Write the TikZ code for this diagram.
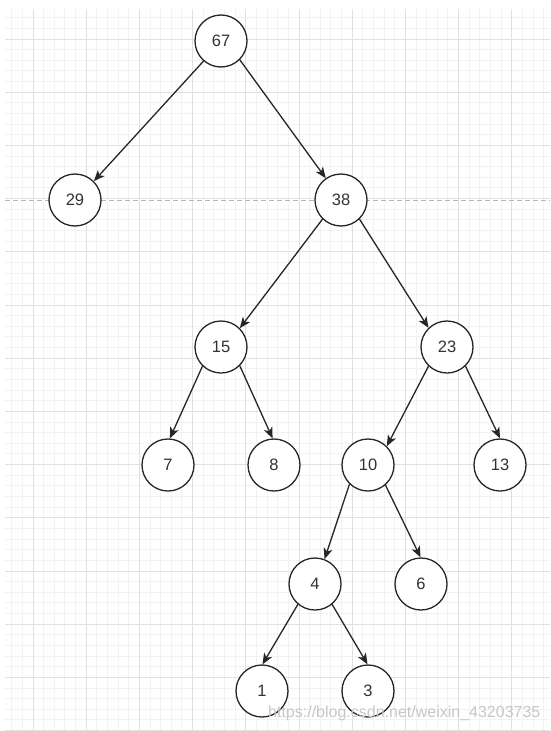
\documentclass[tikz,border=0pt]{standalone}
\usepackage{fontspec}
\setmainfont{Liberation Sans}
\usetikzlibrary{arrows.meta}
\begin{document}
\begin{tikzpicture}[x=1pt,y=-1pt,
  tnode/.style={circle,draw=black!85,line width=1.3pt,fill=white,minimum size=52pt,inner sep=0pt,font=\fontsize{16.5}{16.5}\selectfont,text=black!80},
  edge/.style={draw=black!85,line width=1.3pt,-{Stealth[length=11pt,width=9pt,inset=3pt]}},
  minorgrid/.style={draw=black!5,line width=1pt},
  majorgrid/.style={draw=black!12,line width=1pt},
  sepline/.style={draw=black!28,line width=1pt,dash pattern=on 5pt off 3pt}]
\useasboundingbox (0,0) rectangle (550,731);
\fill[white] (0,0) rectangle (550,731);
\begin{scope}
\clip (5,9) rectangle (550,731);
\foreach \k in {-3,...,52} { \draw[minorgrid] ({33+10.64*\k},9) -- ({33+10.64*\k},731); }
\foreach \k in {-3,...,67} { \draw[minorgrid] (5,{39+10.64*\k}) -- (550,{39+10.64*\k}); }
\foreach \k in {-1,...,10} { \draw[majorgrid] ({33+53.2*\k},9) -- ({33+53.2*\k},731); }
\foreach \k in {-1,...,13} { \draw[majorgrid] (5,{39+53.2*\k}) -- (550,{39+53.2*\k}); }
\end{scope}
\coordinate (sl) at (5,200);
\coordinate (sr) at (550,200);
\draw[sepline] (sl) -- (sr);
\node[tnode] (n67) at (221,41) {67};
\node[tnode] (n29) at (75,200) {29};
\node[tnode] (n38) at (341,200) {38};
\node[tnode] (n15) at (221,347) {15};
\node[tnode] (n23) at (447,347) {23};
\node[tnode] (n7) at (168,465) {7};
\node[tnode] (n8) at (274,465) {8};
\node[tnode] (n10) at (368,465) {10};
\node[tnode] (n13) at (500,465) {13};
\node[tnode] (n4) at (315,584) {4};
\node[tnode] (n6) at (421,584) {6};
\node[tnode] (n1) at (262,691) {1};
\node[tnode] (n3) at (368,691) {3};
\draw[edge] (n67.229) -- (n29.45);
\draw[edge] (n67.315) -- (n38.125);
\draw[edge] (n38.226) -- (n15.45);
\draw[edge] (n38.314) -- (n23.134);
\draw[edge] (n15.226) -- (n7.86);
\draw[edge] (n15.315) -- (n8.93);
\draw[edge] (n23.226) -- (n10.45);
\draw[edge] (n23.314) -- (n13.90);
\draw[edge] (n10.226) -- (n4.69);
\draw[edge] (n10.311) -- (n6.91);
\draw[edge] (n4.230) -- (n1.89);
\draw[edge] (n4.310) -- (n3.91);
\node[anchor=base west,inner sep=0pt,text=black!22,font=\fontsize{16}{16}\selectfont] (wm) at (268,717) {https://blog.csdn.net/weixin\_43203735};
\end{tikzpicture}
\end{document}
